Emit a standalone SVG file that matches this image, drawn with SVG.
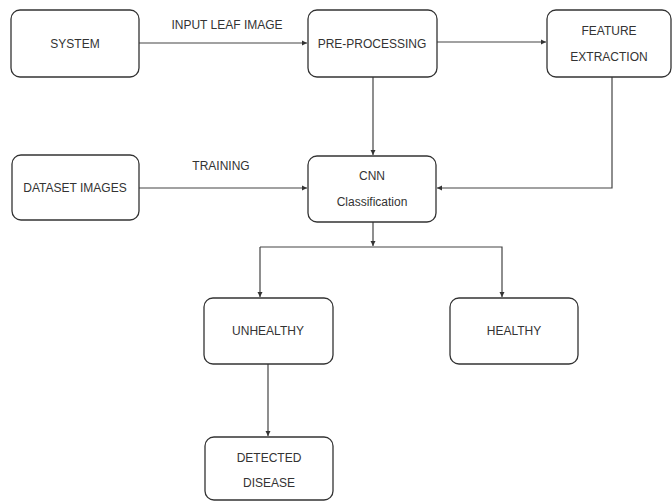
<svg xmlns="http://www.w3.org/2000/svg" width="672" height="503" viewBox="0 0 672 503">
<defs>
<style>
.box{fill:#fff;stroke:#333;stroke-width:1.3}
.t{font-family:"Liberation Sans",Arial,sans-serif;font-size:12px;fill:#333;text-anchor:middle}
.c{fill:none;stroke:#444;stroke-width:1.2}
</style>
<marker id="ah" markerWidth="6" markerHeight="6" refX="5" refY="3" orient="auto" markerUnits="userSpaceOnUse">
<path d="M0,0.5 L5,3 L0,5.5 Z" fill="#333"/>
</marker>
</defs>
<rect width="672" height="503" fill="#fff"/>
<g id="connectors">
<line class="c" x1="139" y1="43" x2="307" y2="43" marker-end="url(#ah)"/>
<line class="c" x1="437" y1="42" x2="546" y2="42" marker-end="url(#ah)"/>
<line class="c" x1="373" y1="77" x2="373" y2="155" marker-end="url(#ah)"/>
<polyline class="c" points="612,77 612,188 437,188" marker-end="url(#ah)"/>
<line class="c" x1="139" y1="188" x2="307" y2="188" marker-end="url(#ah)"/>
<line class="c" x1="373" y1="222" x2="373" y2="246" marker-end="url(#ah)"/>
<polyline class="c" points="260,247 502,247 502,297" marker-end="url(#ah)"/>
<line class="c" x1="260" y1="247" x2="260" y2="297" marker-end="url(#ah)"/>
<line class="c" x1="268" y1="364" x2="268" y2="436" marker-end="url(#ah)"/>
<text class="t" x="227" y="29">INPUT LEAF IMAGE</text>
<text class="t" x="221" y="170">TRAINING</text>
</g>
<g id="system"><rect class="box" x="11" y="10" width="128" height="67" rx="9"/><text class="t" x="75" y="48">SYSTEM</text></g>
<g id="preprocessing"><rect class="box" x="308" y="10" width="129" height="67" rx="9"/><text class="t" x="372" y="48">PRE-PROCESSING</text></g>
<g id="feature"><rect class="box" x="547" y="10" width="124" height="67" rx="9"/><text class="t" x="609" y="35">FEATURE</text><text class="t" x="609" y="61">EXTRACTION</text></g>
<g id="dataset"><rect class="box" x="12" y="155" width="127" height="65" rx="9"/><text class="t" x="75" y="192">DATASET IMAGES</text></g>
<g id="cnn"><rect class="box" x="308" y="156" width="128" height="66" rx="9"/><text class="t" x="372" y="180">CNN</text><text class="t" x="372" y="206">Classification</text></g>
<g id="unhealthy"><rect class="box" x="204" y="298" width="129" height="66" rx="9"/><text class="t" x="268" y="335">UNHEALTHY</text></g>
<g id="healthy"><rect class="box" x="450" y="298" width="128" height="66" rx="9"/><text class="t" x="514" y="335">HEALTHY</text></g>
<g id="detected"><rect class="box" x="205" y="437" width="128" height="63" rx="9"/><text class="t" x="269" y="462">DETECTED</text><text class="t" x="269" y="487">DISEASE</text></g>
</svg>
